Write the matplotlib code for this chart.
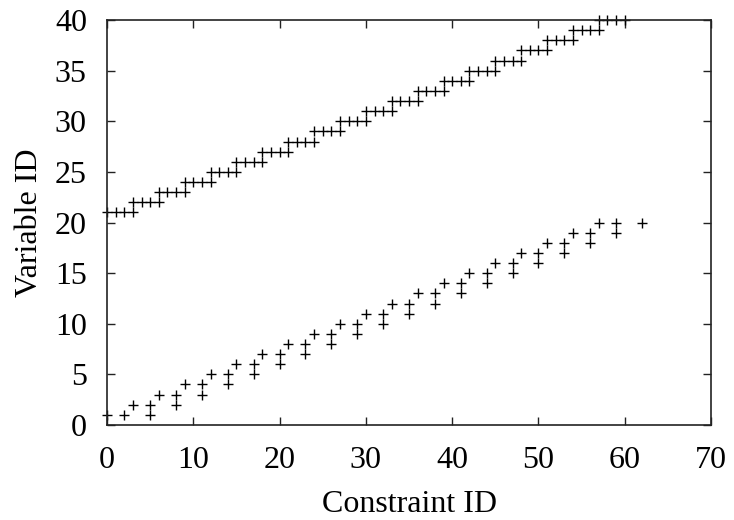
import matplotlib.pyplot as plt

plt.rcParams['font.family'] = ['Liberation Serif', 'DejaVu Serif']

# constraint / variable pairs, upper band (variables 21-40)
upper_x = [0, 1, 2, 3, 3, 4, 5, 6, 6, 7, 8, 9, 9, 10, 11, 12,
           12, 13, 14, 15, 15, 16, 17, 18, 18, 19, 20, 21, 21, 22, 23, 24,
           24, 25, 26, 27, 27, 28, 29, 30, 30, 31, 32, 33, 33, 34, 35, 36,
           36, 37, 38, 39, 39, 40, 41, 42, 42, 43, 44, 45, 45, 46, 47, 48,
           48, 49, 50, 51, 51, 52, 53, 54, 54, 55, 56, 57, 57, 58, 59, 60]
upper_y = [21, 21, 21, 21, 22, 22, 22, 22, 23, 23, 23, 23, 24, 24, 24, 24,
           25, 25, 25, 25, 26, 26, 26, 26, 27, 27, 27, 27, 28, 28, 28, 28,
           29, 29, 29, 29, 30, 30, 30, 30, 31, 31, 31, 31, 32, 32, 32, 32,
           33, 33, 33, 33, 34, 34, 34, 34, 35, 35, 35, 35, 36, 36, 36, 36,
           37, 37, 37, 37, 38, 38, 38, 38, 39, 39, 39, 39, 40, 40, 40, 40]

# lower band (variables 1-20)
lower_x = [0, 2, 3, 5, 5, 6, 8, 8, 9, 11, 11, 12, 14, 14, 15, 17, 17,
           18, 20, 20, 21, 23, 23, 24, 26, 26, 27, 29, 29, 30, 32, 32,
           33, 35, 35, 36, 38, 38, 39, 41, 41, 42, 44, 44, 45, 47, 47,
           48, 50, 50, 51, 53, 53, 54, 56, 56, 57, 59, 59, 62]
lower_y = [1, 1, 2, 2, 1, 3, 3, 2, 4, 4, 3, 5, 5, 4, 6, 6, 5,
           7, 7, 6, 8, 8, 7, 9, 9, 8, 10, 10, 9, 11, 11, 10,
           12, 12, 11, 13, 13, 12, 14, 14, 13, 15, 15, 14, 16, 16, 15,
           17, 17, 16, 18, 18, 17, 19, 19, 18, 20, 20, 19, 20]

fig = plt.figure(figsize=(7.34, 5.2), dpi=100)
ax = fig.add_axes([0.1458, 0.1827, 0.8229, 0.7788])

for xs, ys in [(upper_x, upper_y), (lower_x, lower_y)]:
    ax.plot(xs, ys, linestyle='none', marker='+', markersize=7,
            markeredgewidth=1.0, color='black', clip_on=False)

ax.set_xlim(0, 70)
ax.set_ylim(0, 40)
ax.set_xticks(range(0, 71, 10))
ax.set_yticks(range(0, 41, 5))

ax.tick_params(direction='in', length=6, width=1.0, top=True, right=True,
               labelsize=23, color='#222222')
ax.tick_params(axis='y', pad=14.5)
ax.tick_params(axis='x', pad=15)
for sp in ax.spines.values():
    sp.set_linewidth(1.2)
    sp.set_color('#222222')

ax.set_xlabel('Constraint ID', fontsize=23, labelpad=11)
ax.set_ylabel('Variable ID', fontsize=23, labelpad=8)

fig.savefig('out.png', dpi=100)
